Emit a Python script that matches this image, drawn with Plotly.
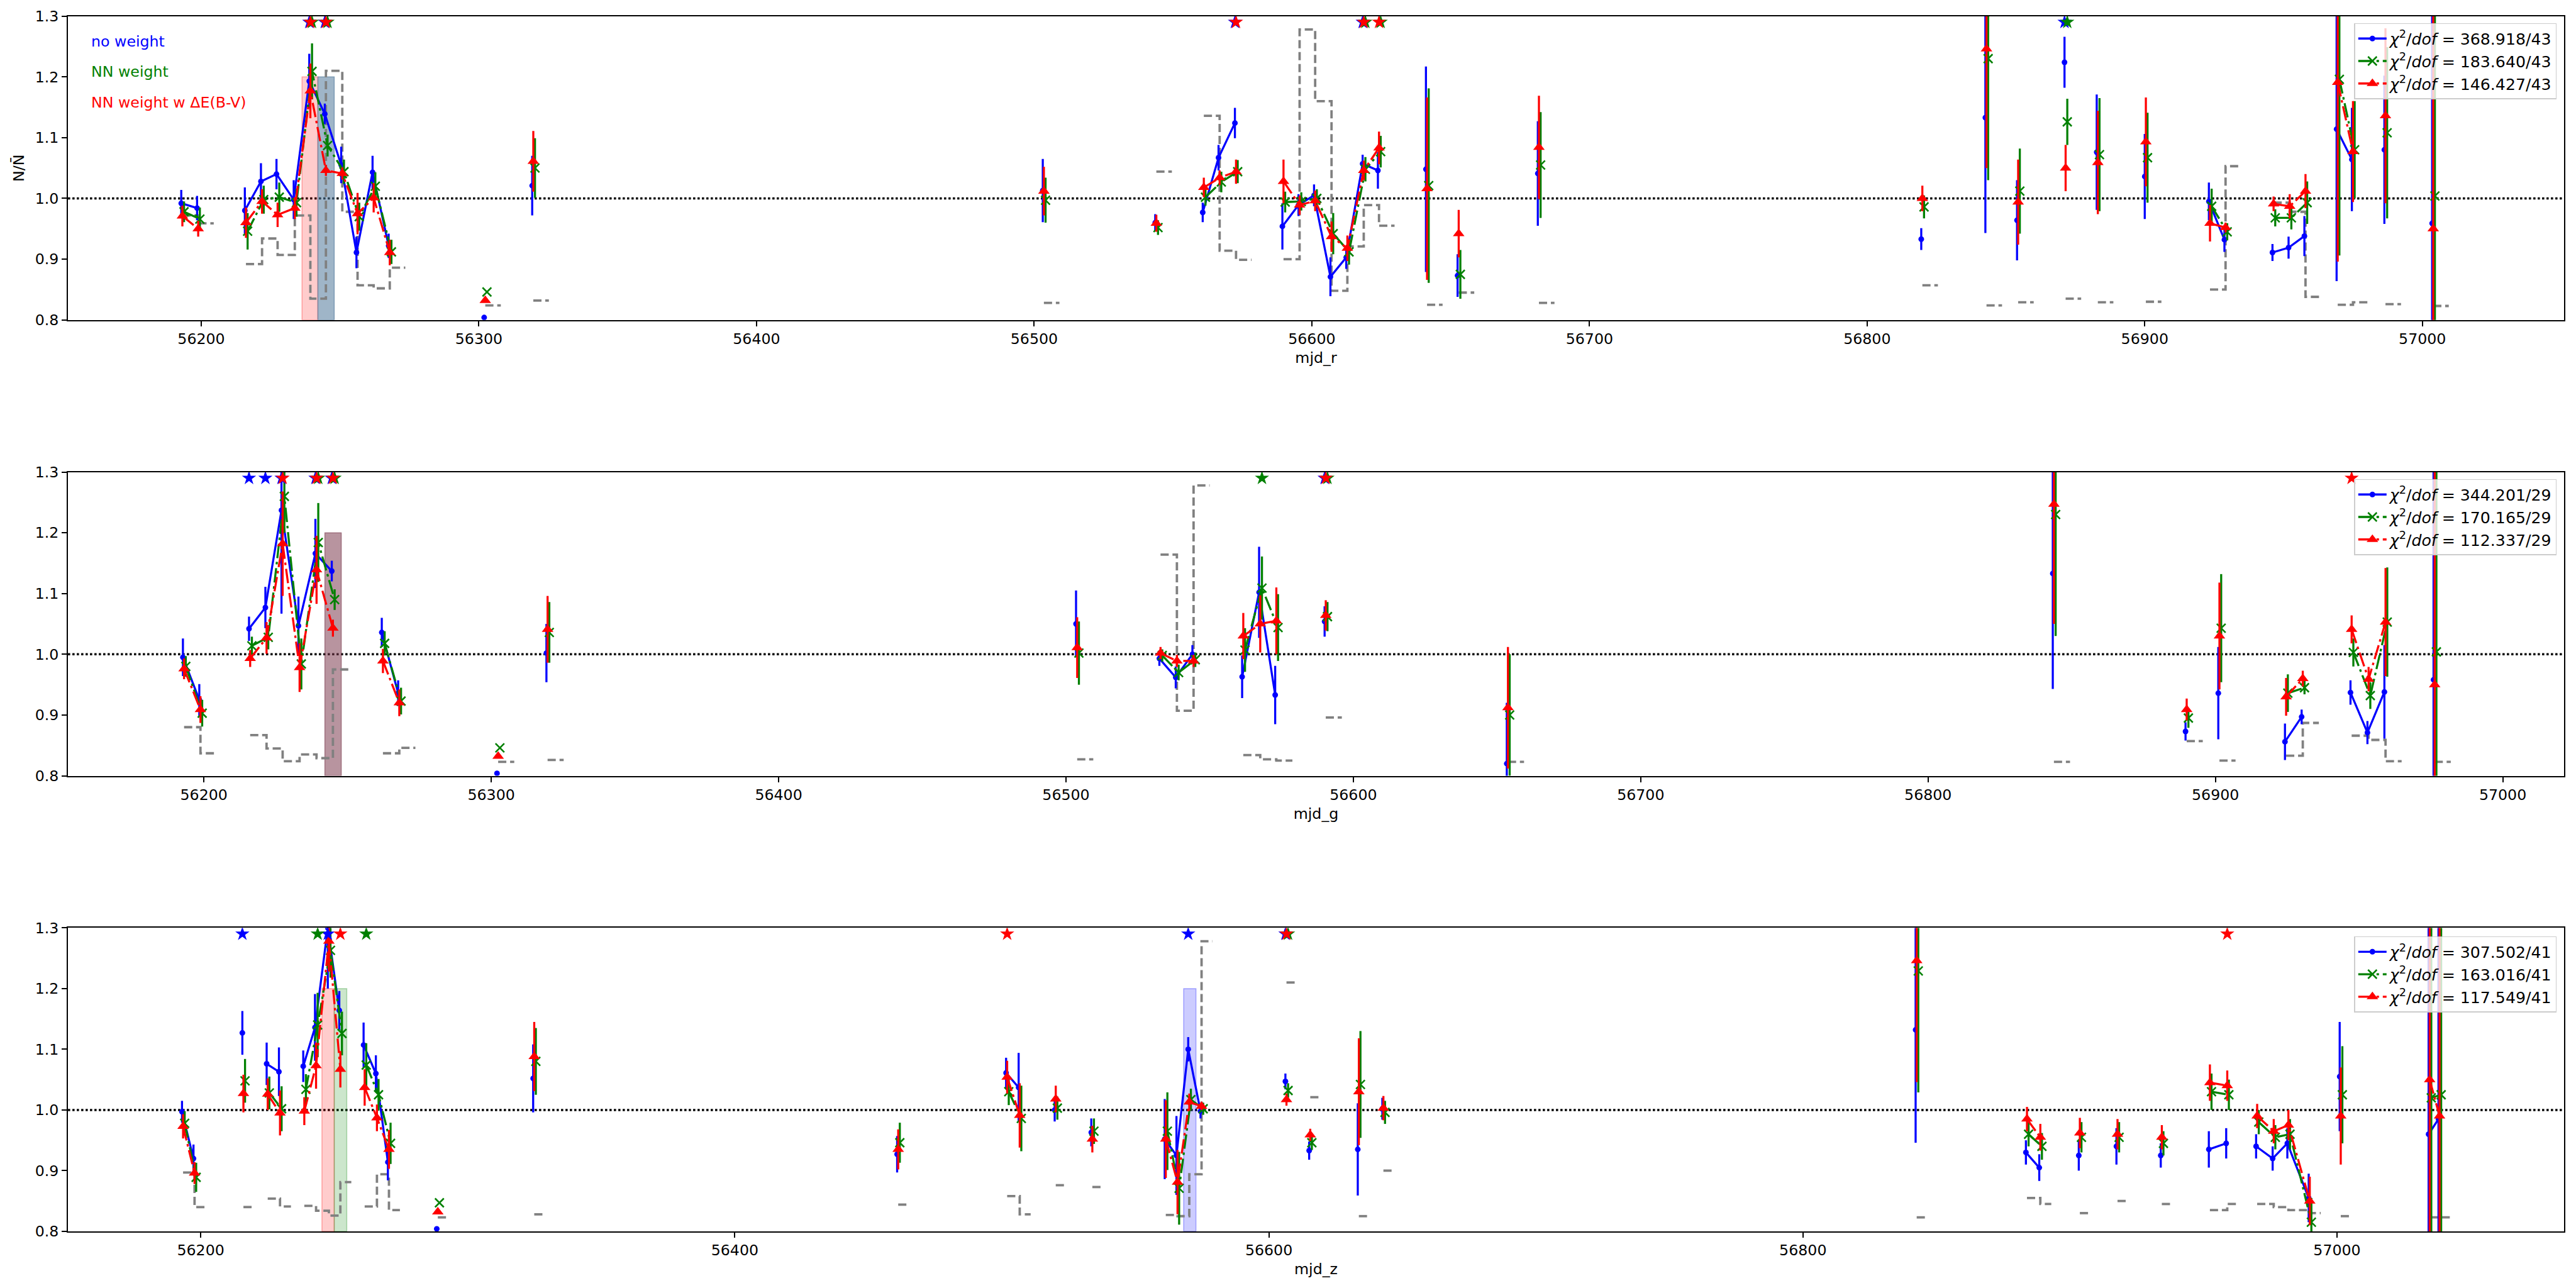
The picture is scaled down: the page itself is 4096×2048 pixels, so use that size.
import plotly.graph_objects as go

# ======================= DATA =======================
# ---- panel r ----
r_mjd = [56192.8, 56198.5, 56215.7, 56221.5, 56227.1, 56233.3, 56238.9, 56244.5, 56250.4, 56255.9,
         56261.7, 56267.5, 56301.9, 56319.2, 56503.1, 56543.6, 56560.7, 56566.4, 56572.3, 56589.4,
         56595.2, 56600.8, 56606.7, 56612.4, 56618.3, 56623.8, 56641.1, 56652.5, 56681.4, 56819.5,
         56842.6, 56854.0, 56871.1, 56882.7, 56900.0, 56923.1, 56928.7, 56946.0, 56951.8, 56957.5,
         56969.1, 56974.6, 56986.3, 57003.5]
r_blue = [0.992, 0.984, 0.980, 1.028, 1.040, 0.998, 1.193, 1.139, 1.055, 0.911,
          1.043, 0.922, 0.804, 1.021, 1.013, 0.960, 0.977, 1.067, 1.124, 0.954,
          0.989, 1.005, 0.871, 0.903, 1.057, 1.046, 1.048, 0.873, 1.041, 0.933,
          1.133, 0.964, 1.224, 1.076, 1.036, 0.995, 0.932, 0.911, 0.919, 0.938,
          1.114, 1.064, 1.080, 0.959]
r_blue_err = [0.022, 0.020, 0.038, 0.030, 0.025, 0.032, 0.045, 0.017, 0.030, 0.026,
              0.027, 0.020, 0.0, 0.049, 0.052, 0.014, 0.016, 0.021, 0.025, 0.038,
              0.018, 0.018, 0.032, 0.019, 0.015, 0.030, 0.169, 0.035, 0.086, 0.018,
              0.190, 0.066, 0.042, 0.095, 0.070, 0.031, 0.020, 0.014, 0.018, 0.033,
              0.250, 0.085, 0.122, 0.500]
r_green = [0.978, 0.966, 0.946, 0.998, 1.002, 0.993, 1.209, 1.087, 1.044, 0.970,
           1.020, 0.912, 0.846, 1.050, 0.997, 0.952, 1.002, 1.027, 1.044, 0.994,
           0.995, 1.000, 0.942, 0.912, 1.048, 1.077, 1.021, 0.875, 1.055, 0.986,
           1.230, 1.012, 1.126, 1.072, 1.067, 0.987, 0.945, 0.968, 0.968, 0.993,
           1.196, 1.080, 1.108, 1.004]
r_green_err = [0.017, 0.019, 0.030, 0.023, 0.024, 0.023, 0.046, 0.018, 0.020, 0.023,
               0.023, 0.020, 0.0, 0.049, 0.037, 0.012, 0.014, 0.017, 0.019, 0.017,
               0.015, 0.015, 0.034, 0.021, 0.020, 0.026, 0.160, 0.040, 0.087, 0.019,
               0.200, 0.070, 0.038, 0.093, 0.074, 0.029, 0.014, 0.014, 0.019, 0.035,
               0.290, 0.080, 0.141, 0.500]
r_red = [0.971, 0.950, 0.960, 0.995, 0.973, 0.984, 1.177, 1.046, 1.041, 0.975,
         1.001, 0.911, 0.832, 1.061, 1.012, 0.959, 1.018, 1.034, 1.044, 1.028,
         0.989, 0.996, 0.937, 0.918, 1.046, 1.083, 1.016, 0.942, 1.084, 1.000,
         1.246, 0.994, 1.050, 1.059, 1.093, 0.959, 0.952, 0.991, 0.987, 1.012,
         1.191, 1.077, 1.136, 0.950]
r_red_err = [0.017, 0.013, 0.025, 0.020, 0.020, 0.018, 0.045, 0.009, 0.010, 0.034,
             0.024, 0.021, 0.0, 0.050, 0.040, 0.014, 0.016, 0.012, 0.020, 0.036,
             0.016, 0.017, 0.025, 0.021, 0.016, 0.027, 0.150, 0.039, 0.085, 0.021,
             0.196, 0.070, 0.038, 0.085, 0.073, 0.030, 0.008, 0.012, 0.020, 0.028,
             0.295, 0.083, 0.144, 0.500]
r_grey = [0.972, 0.959, 0.892, 0.934, 0.907, 0.972, 0.835, 1.210, 0.978, 0.857,
          0.852, 0.886, 0.824, 0.832, 0.828, 1.044, 1.136, 0.914, 0.899, 0.900,
          1.278, 1.160, 0.848, 0.921, 0.989, 0.955, 0.825, 0.845, 0.828, 0.857,
          0.824, 0.829, 0.835, 0.829, 0.830, 0.850, 1.053, 0.993, 0.978, 0.838,
          0.825, 0.829, 0.826, 0.823]
r_star_blue = [56238.9, 56244.5, 56572.3, 56618.3, 56871.1]
r_star_green = [56238.9, 56244.5, 56618.3, 56623.8, 56871.1]
r_star_red = [56238.9, 56244.5, 56572.3, 56618.3, 56623.8]
r_chi = ["368.918/43", "183.640/43", "146.427/43"]

# ---- panel g ----
g_mjd = [56192.7, 56198.4, 56215.7, 56221.4, 56227.0, 56232.9, 56238.8, 56244.5, 56261.9, 56267.6,
         56302.0, 56319.2, 56503.5, 56532.5, 56538.2, 56544.0, 56561.3, 56567.2, 56572.8, 56590.0,
         56653.4, 56843.4, 56889.6, 56901.0, 56924.2, 56930.0, 56947.0, 56952.9, 56958.8, 56975.9]
g_blue = [0.995, 0.925, 1.042, 1.077, 1.237, 1.047, 1.166, 1.137, 1.036, 0.936,
          0.804, 1.002, 1.050, 0.993, 0.962, 1.000, 0.963, 1.102, 0.933, 1.054,
          0.820, 1.133, 0.873, 0.936, 0.856, 0.897, 0.937, 0.871, 0.938, 0.958]
g_blue_err = [0.031, 0.026, 0.020, 0.034, 0.170, 0.048, 0.057, 0.017, 0.024, 0.021,
              0.0, 0.048, 0.055, 0.012, 0.018, 0.015, 0.035, 0.075, 0.048, 0.025,
              0.100, 0.190, 0.015, 0.076, 0.030, 0.012, 0.020, 0.019, 0.077, 0.500]
g_green = [0.980, 0.903, 1.014, 1.028, 1.260, 0.984, 1.184, 1.090, 1.018, 0.923,
           0.846, 1.036, 1.002, 0.998, 0.970, 0.991, 1.007, 1.109, 1.044, 1.062,
           0.900, 1.230, 0.895, 1.043, 0.936, 0.945, 1.003, 0.932, 1.053, 1.004]
g_green_err = [0.017, 0.022, 0.015, 0.020, 0.060, 0.042, 0.065, 0.017, 0.020, 0.022,
               0.0, 0.050, 0.052, 0.010, 0.013, 0.012, 0.036, 0.052, 0.055, 0.024,
               0.100, 0.200, 0.016, 0.089, 0.031, 0.011, 0.023, 0.022, 0.090, 0.500]
g_red = [0.976, 0.909, 0.993, 1.027, 1.182, 0.978, 1.139, 1.043, 0.989, 0.920,
         0.832, 1.041, 1.011, 1.002, 0.989, 0.989, 1.030, 1.050, 1.055, 1.064,
         0.912, 1.247, 0.909, 1.030, 0.930, 0.960, 1.041, 0.959, 1.053, 0.950]
g_red_err = [0.017, 0.022, 0.014, 0.026, 0.086, 0.040, 0.056, 0.014, 0.020, 0.022,
             0.0, 0.055, 0.050, 0.010, 0.010, 0.010, 0.038, 0.047, 0.055, 0.025,
             0.100, 0.197, 0.018, 0.088, 0.031, 0.013, 0.023, 0.020, 0.089, 0.500]
g_grey = [0.880, 0.837, 0.867, 0.845, 0.824, 0.835, 0.829, 0.975, 0.837, 0.846,
          0.823, 0.826, 0.827, 1.164, 0.907, 1.278, 0.834, 0.827, 0.825, 0.896,
          0.823, 0.823, 0.857, 0.825, 0.833, 0.887, 0.866, 0.859, 0.824, 0.823]
g_star_blue = [56215.7, 56221.4, 56227.0, 56238.8, 56244.5, 56590.0]
g_star_green = [56238.8, 56244.5, 56567.2, 56590.0]
g_star_red = [56227.0, 56238.8, 56244.5, 56590.0, 56947.0]
g_chi = ["344.201/29", "170.165/29", "112.337/29"]

# ---- panel z ----
z_mjd = [56193.0, 56197.3, 56215.6, 56224.7, 56229.3, 56238.4, 56242.8, 56247.6, 56251.9, 56261.0,
         56265.6, 56270.1, 56288.4, 56324.5, 56460.8, 56501.6, 56506.3, 56519.8, 56533.5, 56561.0,
         56565.4, 56569.8, 56574.4, 56606.2, 56615.1, 56633.3, 56642.5, 56842.2, 56883.5, 56888.5,
         56903.3, 56917.4, 56934.0, 56952.0, 56958.5, 56969.7, 56975.9, 56981.4, 56989.4, 57001.0,
         57034.3, 57038.0]
z_blue = [0.997, 0.920, 1.127, 1.076, 1.063, 1.072, 1.136, 1.300, 1.164, 1.107,
          1.060, 0.914, 0.804, 1.052, 0.927, 1.061, 1.037, 1.000, 0.963, 0.952,
          0.925, 1.100, 0.998, 1.047, 0.933, 0.935, 1.002, 1.132, 0.930, 0.905,
          0.925, 0.940, 0.925, 0.935, 0.945, 0.940, 0.920, 0.945, 0.855, 1.055,
          0.960, 0.985]
z_blue_err = [0.018, 0.023, 0.036, 0.035, 0.040, 0.026, 0.055, 0.100, 0.032, 0.037,
              0.030, 0.030, 0.0, 0.056, 0.030, 0.025, 0.057, 0.019, 0.023, 0.066,
              0.065, 0.020, 0.012, 0.013, 0.015, 0.076, 0.018, 0.186, 0.020, 0.022,
              0.025, 0.030, 0.020, 0.030, 0.025, 0.020, 0.020, 0.025, 0.040, 0.090,
              0.500, 0.500]
z_green = [0.978, 0.889, 1.048, 1.028, 1.002, 1.034, 1.140, 1.263, 1.126, 1.074,
           1.025, 0.945, 0.847, 1.080, 0.946, 1.030, 0.986, 1.003, 0.965, 0.965,
           0.871, 1.017, 1.002, 1.032, 0.946, 1.042, 0.996, 1.229, 0.960, 0.940,
           0.955, 0.955, 0.945, 1.030, 1.025, 0.980, 0.955, 0.960, 0.815, 1.025,
           1.020, 1.025]
z_green_err = [0.020, 0.024, 0.036, 0.027, 0.037, 0.025, 0.053, 0.045, 0.036, 0.036,
               0.026, 0.034, 0.0, 0.055, 0.033, 0.022, 0.054, 0.019, 0.021, 0.064,
               0.060, 0.018, 0.010, 0.012, 0.012, 0.088, 0.019, 0.200, 0.020, 0.022,
               0.025, 0.025, 0.020, 0.030, 0.025, 0.020, 0.020, 0.025, 0.040, 0.080,
               0.500, 0.500]
z_red = [0.973, 0.896, 1.027, 1.026, 0.995, 0.998, 1.073, 1.278, 1.067, 1.037,
         0.987, 0.935, 0.832, 1.088, 0.935, 1.054, 0.991, 1.018, 0.952, 0.952,
         0.881, 1.013, 1.006, 1.017, 0.959, 1.030, 1.003, 1.246, 0.985, 0.955,
         0.962, 0.960, 0.955, 1.045, 1.040, 0.990, 0.965, 0.975, 0.850, 0.990,
         1.050, 0.990]
z_red_err = [0.020, 0.018, 0.031, 0.026, 0.037, 0.023, 0.038, 0.050, 0.030, 0.030,
             0.022, 0.032, 0.0, 0.057, 0.033, 0.027, 0.053, 0.022, 0.022, 0.064,
             0.053, 0.014, 0.006, 0.010, 0.010, 0.088, 0.020, 0.200, 0.020, 0.022,
             0.025, 0.025, 0.020, 0.030, 0.025, 0.020, 0.020, 0.025, 0.040, 0.080,
             0.500, 0.500]
z_grey = [0.897, 0.840, 0.840, 0.854, 0.841, 0.842, 0.834, 0.826, 0.881, 0.841,
          0.894, 0.835, 0.823, 0.828, 0.844, 0.858, 0.828, 0.876, 0.873, 0.827,
          0.825, 0.894, 1.278, 1.210, 1.021, 0.825, 0.900, 0.823, 0.855, 0.845,
          0.830, 0.850, 0.845, 0.835, 0.845, 0.845, 0.840, 0.835, 0.830, 0.825,
          0.823, 0.823]
z_star_blue = [56215.6, 56247.6, 56569.8, 56606.2]
z_star_green = [56242.8, 56261.0, 56606.2]
z_star_red = [56251.9, 56501.6, 56606.2, 56958.5]
z_chi = ["307.502/41", "163.016/41", "117.549/41"]

# highlighted bins: (panel index, start mjd, end mjd, top value)
span_panel = [0, 0, 1, 2, 2, 2]
span_start = [56236.3, 56242.0, 56242.1, 56245.4, 56250.0, 56568.1]
span_end = [56242.0, 56247.9, 56247.8, 56250.0, 56254.7, 56572.7]
span_top = [1.2, 1.2, 1.2, 1.2, 1.2, 1.2]

series_names = ["no weight", "NN weight", "NN weight w \u0394E(B-V)"]

# ======================= STYLE =======================
W, H = 4096, 2048
FONT = "DejaVu Sans"
FS = 23.7
BLUE, GREEN, RED, GREY = "#0000ff", "#008000", "#ff0000", "#808080"
DX_RED, DX_GREEN = 0.4, 1.0
GAP = 8.0
XDOM = [0.02639, 0.99534]
YDOMS = [[0.7516, 0.9875], [0.3977, 0.6335], [0.0440, 0.2796]]
XRANGES = [[56152.0, 57051.0], [56152.7, 57021.3], [56150.3, 57085.0]]
DTICKS = [100, 100, 200]
XLABELS = ["mjd_r", "mjd_g", "mjd_z"]
GREY_EXT = [5.6, 5.6, 4.1]
LEG_Y = [0.982, 0.628, 0.273]
SPAN_FILL = ["rgba(255,0,0,0.2)", "rgba(80,120,155,0.55)", "rgba(125,60,80,0.55)",
             "rgba(255,0,0,0.2)", "rgba(0,128,0,0.2)", "rgba(0,0,255,0.2)"]
SPAN_LINE = ["rgba(255,0,0,0.3)", "rgba(80,120,155,0.6)", "rgba(125,60,80,0.6)",
             "rgba(255,0,0,0.3)", "rgba(0,128,0,0.3)", "rgba(0,0,255,0.3)"]
DASHDOT = "23px,6px,4px,6px"
GREYDASH = "13px,6px"

panels = [
    dict(mjd=r_mjd, vals=[r_blue, r_green, r_red], errs=[r_blue_err, r_green_err, r_red_err],
         grey=r_grey, stars=[r_star_blue, r_star_green, r_star_red], chi=r_chi),
    dict(mjd=g_mjd, vals=[g_blue, g_green, g_red], errs=[g_blue_err, g_green_err, g_red_err],
         grey=g_grey, stars=[g_star_blue, g_star_green, g_star_red], chi=g_chi),
    dict(mjd=z_mjd, vals=[z_blue, z_green, z_red], errs=[z_blue_err, z_green_err, z_red_err],
         grey=z_grey, stars=[z_star_blue, z_star_green, z_star_red], chi=z_chi),
]

colors = [BLUE, GREEN, RED]
offsets = [0.0, DX_GREEN, DX_RED]
dashes = ["solid", DASHDOT, DASHDOT]


def build(x, y, err, dx):
    xs, ys, es = [], [], []
    for i in range(len(x)):
        if i > 0 and x[i] - x[i - 1] > GAP:
            xs.append(None); ys.append(None); es.append(0)
        xs.append(x[i] + dx); ys.append(y[i]); es.append(err[i])
    return xs, ys, es


def build_grey(x, g, dx, ext):
    xs, ys = [], []
    for i in range(len(x)):
        xs.append(x[i] + dx); ys.append(g[i])
        last = (i == len(x) - 1) or (x[i + 1] - x[i] > GAP)
        if last:
            xs.append(x[i] + dx + ext); ys.append(g[i])
            xs.append(None); ys.append(None)
    return xs, ys


def marker_for(k):
    if k == 0:
        return dict(symbol="circle", size=9, color=BLUE, line=dict(width=0))
    if k == 1:
        return dict(symbol="x-thin", size=14, color=GREEN, line=dict(width=2.6, color=GREEN))
    return dict(symbol="triangle-up", size=16, color=RED, line=dict(width=0))


fig = go.Figure()

for p, pan in enumerate(panels):
    sfx = "" if p == 0 else str(p + 1)
    xref, yref = "x" + sfx, "y" + sfx
    legname = "legend" + sfx
    # grey step line
    gx, gy = build_grey(pan["mjd"], pan["grey"], DX_RED, GREY_EXT[p])
    fig.add_trace(go.Scatter(x=gx, y=gy, mode="lines", line=dict(color=GREY, width=3.8, dash=GREYDASH, shape="hv"),
                             xaxis=xref, yaxis=yref, showlegend=False, hoverinfo="skip"))
    for k in range(3):
        xs, ys, es = build(pan["mjd"], pan["vals"][k], pan["errs"][k], offsets[k])
        fig.add_trace(go.Scatter(
            x=xs, y=ys, mode="lines+markers",
            line=dict(color=colors[k], width=3.3, dash=dashes[k]),
            marker=marker_for(k),
            error_y=dict(type="data", array=es, visible=True, color=colors[k], thickness=3.3, width=0),
            name="<i>\u03c7</i><sup>2</sup>/<i>dof</i> = " + pan["chi"][k],
            legend=legname, xaxis=xref, yaxis=yref,
        ))
    for k in range(3):
        st = pan["stars"][k]
        fig.add_trace(go.Scatter(
            x=[s + offsets[k] for s in st], y=[1.29] * len(st), mode="markers",
            marker=dict(symbol="star", size=17, color=colors[k], line=dict(width=0)),
            xaxis=xref, yaxis=yref, showlegend=False, hoverinfo="skip"))

# shapes: spans then y=1 dotted line
shapes = []
for i in range(len(span_start)):
    p = span_panel[i]
    sfx = "" if p == 0 else str(p + 1)
    shapes.append(dict(type="rect", xref="x" + sfx, yref="y" + sfx, x0=span_start[i], x1=span_end[i],
                       y0=0.8, y1=span_top[i], fillcolor=SPAN_FILL[i],
                       line=dict(color=SPAN_LINE[i], width=1.5), layer="below"))
for p in range(3):
    sfx = "" if p == 0 else str(p + 1)
    shapes.append(dict(type="line", xref="x" + sfx + " domain", yref="y" + sfx, x0=0, x1=1, y0=1.0, y1=1.0,
                       line=dict(color="black", width=3.5, dash="dot"), layer="below"))

layout = dict(
    width=W, height=H, margin=dict(l=0, r=0, t=0, b=0),
    paper_bgcolor="white", plot_bgcolor="white",
    font=dict(family=FONT, size=FS, color="black"),
    shapes=shapes,
)

for p in range(3):
    sfx = "" if p == 0 else str(p + 1)
    layout["xaxis" + sfx] = dict(
        domain=XDOM, anchor="y" + sfx, range=XRANGES[p], dtick=DTICKS[p], tick0=56200,
        tickformat="d", showgrid=False, zeroline=False, showline=True, mirror=True,
        linecolor="black", linewidth=2, ticks="outside", ticklen=8, tickwidth=2, tickcolor="black",
        tickfont=dict(family=FONT, size=FS, color="black"),
        title=dict(text=XLABELS[p], font=dict(family=FONT, size=FS, color="black"), standoff=8),
        automargin=False,
    )
    layout["yaxis" + sfx] = dict(
        domain=YDOMS[p], anchor="x" + sfx, range=[0.8, 1.3], dtick=0.1, tick0=0.8, tickformat=".1f",
        showgrid=False, zeroline=False, showline=True, mirror=True,
        linecolor="black", linewidth=2, ticks="outside", ticklen=8, tickwidth=2, tickcolor="black",
        tickfont=dict(family=FONT, size=FS, color="black"),
        automargin=False,
    )
    layout["legend" + sfx] = dict(
        x=0.9925, xanchor="right", y=LEG_Y[p], yanchor="top",
        bgcolor="rgba(255,255,255,0.8)", bordercolor="#cccccc", borderwidth=1.5,
        font=dict(family=FONT, size=FS + 1.5, color="black"), itemwidth=45,
    )

layout["yaxis"]["title"] = dict(text="N/N\u0304", font=dict(family=FONT, size=FS, color="black"), standoff=10)

annotations = []
ann_y = [1.258, 1.208, 1.158]
for k in range(3):
    annotations.append(dict(x=56160, y=ann_y[k], xref="x", yref="y", text=series_names[k], showarrow=False,
                            xanchor="left", yanchor="middle", font=dict(family=FONT, size=FS, color=colors[k])))
layout["annotations"] = annotations

fig.update_layout(**layout)
fig.write_html("out.html")
